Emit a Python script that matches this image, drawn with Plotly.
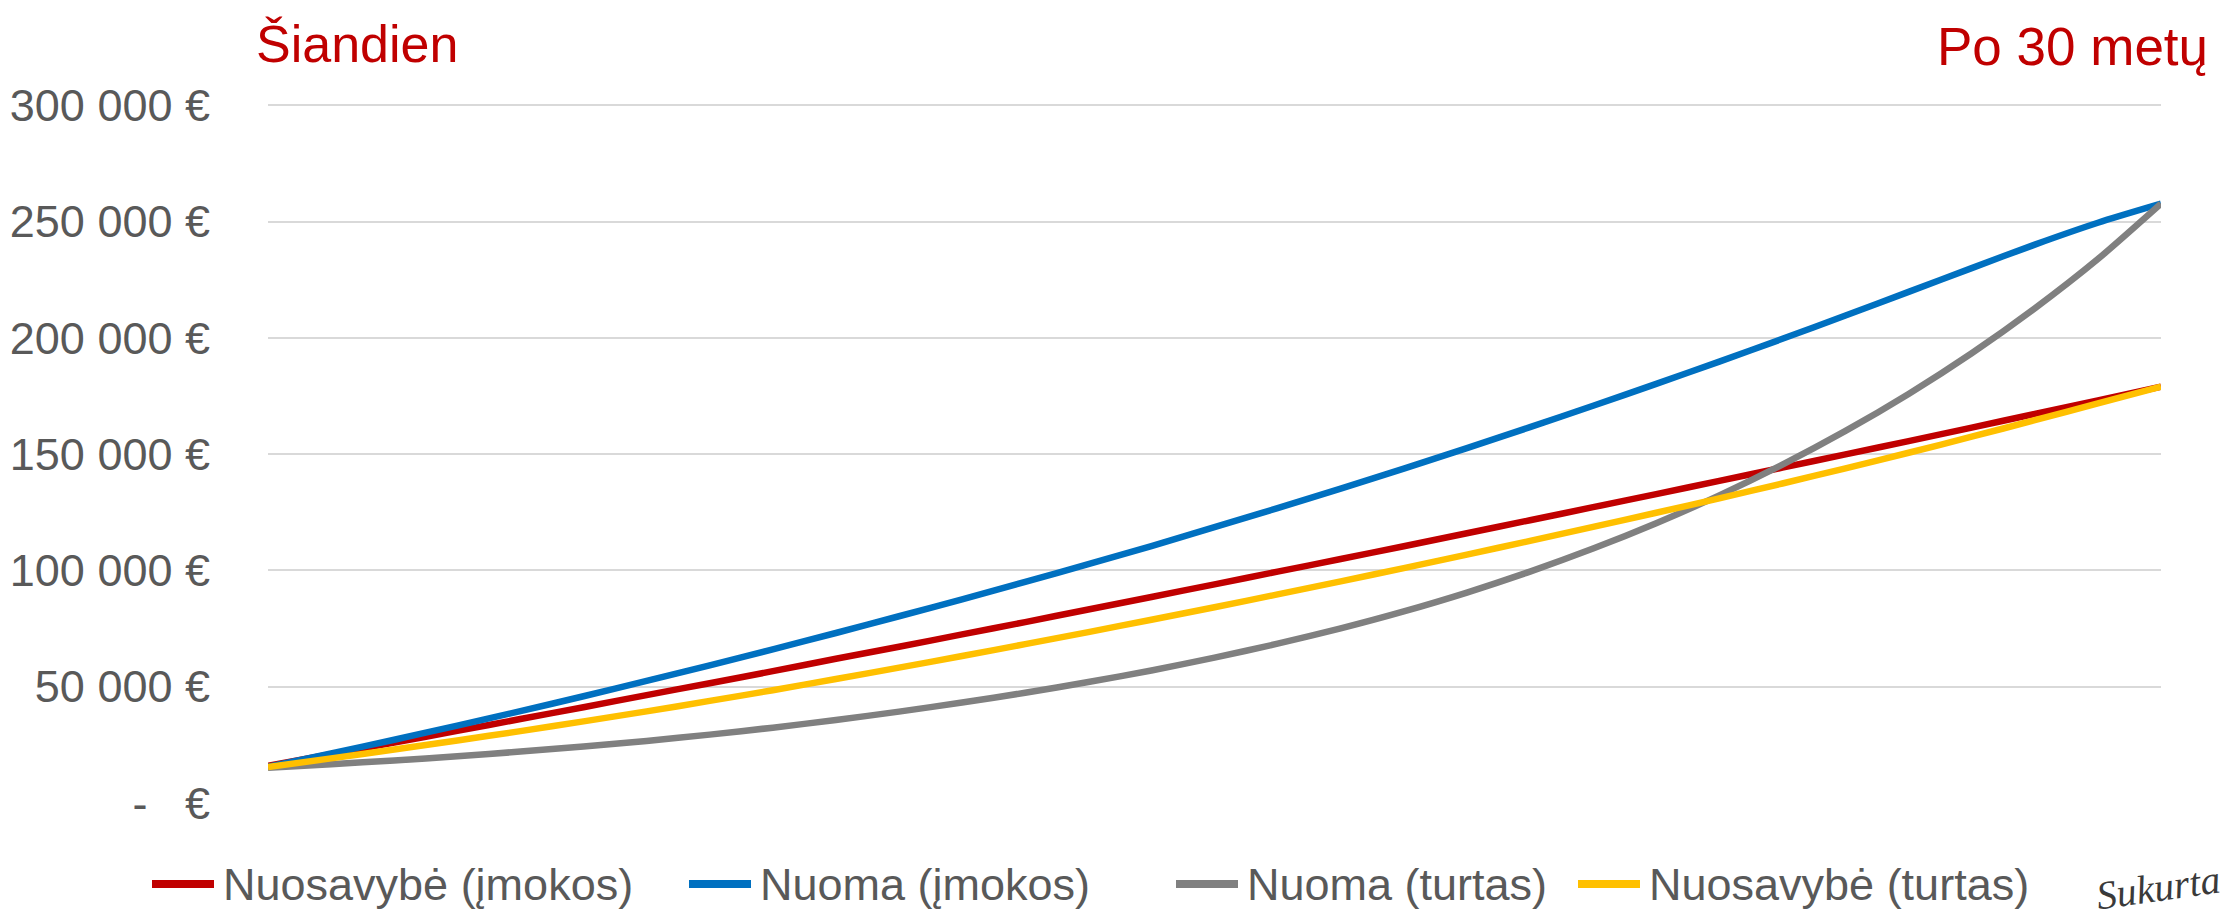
import plotly.graph_objects as go

# Years from today (0) to 30
years = list(range(31))

# Cumulative values in EUR
nuosavybe_imokos = [16000, 21000, 26000, 31000, 36100, 41200, 46400, 51500, 56700, 62000,
                    67200, 72500, 77800, 83200, 88600, 94000, 99500, 104900, 110400, 116000,
                    121600, 127200, 132800, 138500, 144200, 149900, 155600, 161400, 167300, 173100,
                    179000]
nuoma_imokos = [15600, 21300, 27200, 33300, 39500, 45900, 52500, 59200, 66100, 73100,
                80300, 87600, 95100, 102700, 110500, 118600, 126800, 135200, 143800, 152600,
                161600, 170800, 180200, 189800, 199600, 209600, 219800, 230000, 240100, 249500,
                257700]
nuoma_turtas = [15200, 16700, 18300, 20100, 22100, 24300, 26700, 29400, 32400, 35700,
                39300, 43200, 47400, 52000, 57000, 62500, 68500, 75100, 82400, 90500,
                99500, 109400, 120300, 132300, 145500, 160000, 175900, 193400, 212700, 233900,
                257700]
nuosavybe_turtas = [15500, 19200, 23000, 26900, 30900, 35100, 39400, 43900, 48500, 53300,
                    58200, 63200, 68300, 73500, 78800, 84200, 89700, 95300, 101000, 106800,
                    112700, 118700, 124800, 131000, 137400, 143900, 150600, 157500, 164600, 171800,
                    179000]

series_names = ["Nuosavybė (įmokos)", "Nuoma (įmokos)", "Nuoma (turtas)", "Nuosavybė (turtas)"]
series_values = [nuosavybe_imokos, nuoma_imokos, nuoma_turtas, nuosavybe_turtas]
series_colors = ["#C00000", "#0070C0", "#808080", "#FFC000"]

y_tick_values = [0, 50000, 100000, 150000, 200000, 250000, 300000]
y_tick_labels = ["-\u00a0\u00a0\u00a0€", "50 000 €", "100 000 €", "150 000 €",
                 "200 000 €", "250 000 €", "300 000 €"]

FONT = "Liberation Sans, Arial, sans-serif"
TEXT_GREY = "#595959"

W, H = 2233, 917
ML, MR, MT, MB = 268, 72, 103, 114
pw, ph = W - ML - MR, H - MT - MB


def px_to_paper_x(px):
    return (px - ML) / pw


def px_to_paper_y(py):
    return (H - MB - py) / ph


fig = go.Figure()
for name, vals, color in zip(series_names, series_values, series_colors):
    fig.add_trace(go.Scatter(
        x=years, y=vals, name=name, mode="lines",
        line=dict(color=color, width=6.5, shape="spline", smoothing=0.7),
        hoverinfo="skip", showlegend=False,
    ))

# Legend row drawn beneath the plot
legend_x = [152, 689, 1176, 1578]
legend_y = 884
for lx, name, color in zip(legend_x, series_names, series_colors):
    fig.add_shape(type="line", xref="paper", yref="paper",
                  x0=px_to_paper_x(lx), x1=px_to_paper_x(lx + 62),
                  y0=px_to_paper_y(legend_y), y1=px_to_paper_y(legend_y),
                  line=dict(color=color, width=8))
    fig.add_annotation(text=name, xref="paper", yref="paper",
                       x=px_to_paper_x(lx + 69), y=px_to_paper_y(legend_y),
                       xanchor="left", yanchor="middle", showarrow=False,
                       font=dict(family=FONT, size=45, color=TEXT_GREY))

fig.add_annotation(text="Šiandien", xref="paper", yref="paper",
                   x=px_to_paper_x(254), y=px_to_paper_y(44),
                   xanchor="left", yanchor="middle", showarrow=False,
                   font=dict(family=FONT, size=52, color="#C00000"))
fig.add_annotation(text="Po 30 metų", xref="paper", yref="paper",
                   x=px_to_paper_x(2210), y=px_to_paper_y(47),
                   xanchor="right", yanchor="middle", showarrow=False,
                   font=dict(family=FONT, size=53, color="#C00000"))
fig.add_annotation(text="<i>Sukurta</i>", xref="paper", yref="paper",
                   x=px_to_paper_x(2158), y=px_to_paper_y(887),
                   xanchor="center", yanchor="middle", showarrow=False,
                   textangle=-8,
                   font=dict(family="Liberation Serif, serif", size=40, color="#3A3A3A"))

fig.update_layout(
    width=W, height=H,
    margin=dict(l=ML, r=MR, t=MT, b=MB),
    paper_bgcolor="white", plot_bgcolor="white",
    showlegend=False,
    xaxis=dict(range=[0, 30], showgrid=False, zeroline=False, showline=False,
               showticklabels=False, ticks="", automargin=False),
    yaxis=dict(range=[0, 301000], tickvals=y_tick_values, ticktext=y_tick_labels,
               showgrid=True, gridcolor="#D9D9D9", gridwidth=2,
               zeroline=False, showline=False, ticks="", automargin=False,
               ticklabelstandoff=57,
               tickfont=dict(family=FONT, size=45, color=TEXT_GREY)),
)

fig.write_html("out.html", config={"displayModeBar": False})
